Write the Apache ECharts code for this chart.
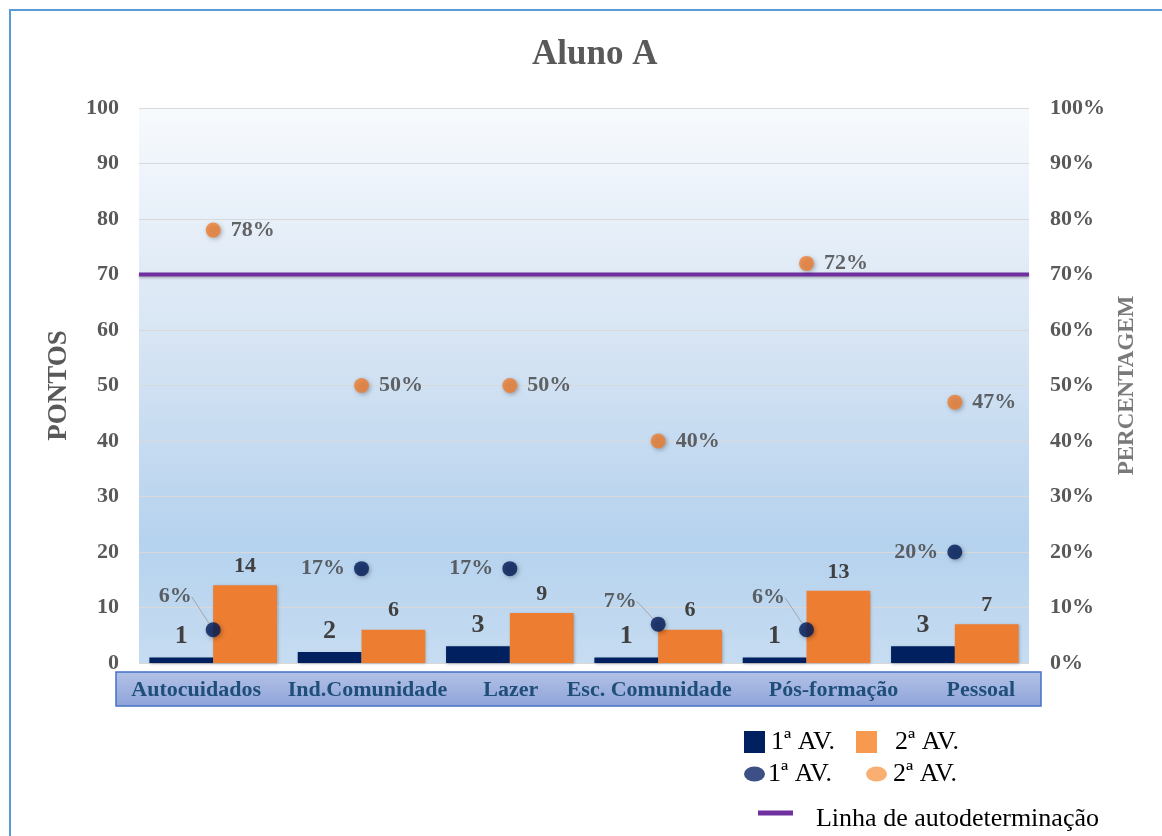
<!DOCTYPE html>
<html>
<head>
<meta charset="utf-8">
<script src="https://cdn.jsdelivr.net/npm/echarts@6/dist/echarts.min.js"></script>
<style>
  html, body { margin: 0; padding: 0; background: #ffffff; }
  #chart { width: 1162px; height: 836px; }
</style>
</head>
<body>
<div id="chart"></div>
<script>
// Domains of the assessment
const categorias = ['Autocuidados', 'Ind.Comunidade', 'Lazer', 'Esc. Comunidade', 'Pós-formação', 'Pessoal'];
// Points per domain (bars, left axis)
const pontos1 = [1, 2, 3, 1, 1, 3];
const pontos2 = [14, 6, 9, 6, 13, 7];
// Percentages per domain (dots, right axis)
const percent1 = [6, 17, 17, 7, 6, 20];
const percent2 = [78, 50, 50, 40, 72, 47];
// Self-determination threshold across all domains
const autodeterminacao = [70, 70, 70, 70, 70, 70];
// Axis ranges
const eixoPontos = { min: 0, max: 100, step: 10 };
const eixoPercent = { min: 0, max: 100, step: 10 };

const serif = "'Liberation Serif', 'Times New Roman', serif";
const nomes = { barra1: '1ª AV.', barra2: '2ª AV.', ponto1: '1ª AV.', ponto2: '2ª AV.', linha: 'Linha de autodeterminação' };
const legendFmt = n => nomes[n];

// horizontal nudges of the category names inside the label band
const deslocNome = [-17, 6, 1, -9, 27, 26];
const rotulosX = categorias.map((c, i) => ({
  value: c,
  textStyle: { padding: deslocNome[i] >= 0 ? [0, 0, 0, 2 * deslocNome[i]] : [0, -2 * deslocNome[i], 0, 0] }
}));

// dots whose labels sit above-left with a leader line (vertical lift per dot)
const guia = { 0: -33, 3: -23, 4: -32 };

const sombra = { shadowBlur: 4, shadowColor: 'rgba(0,0,0,0.35)', shadowOffsetX: 1.5, shadowOffsetY: 1.5 };
const sombraBarra = { shadowBlur: 3, shadowColor: 'rgba(0,0,0,0.25)', shadowOffsetX: 1, shadowOffsetY: 1 };
const elipse = 'path://M0,7.5A10.5,7.5 0 1,1 21,7.5A10.5,7.5 0 1,1 0,7.5z';
// legend stroke for the threshold line, sitting slightly above the text middle
const traco = 'path://M0,0L35,0L35,5L0,5Z M0,17L0.01,17L0.01,17.01Z';

const chart = echarts.init(document.getElementById('chart'), null, { renderer: 'canvas' });

const option = {
  backgroundColor: '#ffffff',
  animation: false,
  title: {
    text: 'Aluno A',
    left: 527, top: 32,
    textStyle: { fontFamily: serif, fontSize: 35, fontWeight: 'bold', color: '#595959' }
  },
  graphic: [
    {
      type: 'rect', z: 100, silent: true,
      shape: { x: 10, y: 10, width: 1170, height: 850 },
      style: { fill: 'transparent', stroke: '#5b9bd5', lineWidth: 2 }
    },
    {
      type: 'rect', z: -1, silent: true,
      shape: { x: 116, y: 672, width: 925, height: 34 },
      style: {
        fill: new echarts.graphic.LinearGradient(0, 0, 0, 1, [
          { offset: 0, color: '#b3c2e6' },
          { offset: 1, color: '#8ea3d9' }
        ]),
        stroke: '#4472c4', lineWidth: 1.5
      }
    }
  ],
  grid: {
    left: 139, right: 133, top: 108, bottom: 173,
    show: true, borderWidth: 0,
    backgroundColor: new echarts.graphic.LinearGradient(0, 0, 0, 1, [
      { offset: 0, color: '#f7fafd' },
      { offset: 0.45, color: '#d4e3f3' },
      { offset: 0.78, color: '#b5d2ee' },
      { offset: 1, color: '#c6dcf1' }
    ])
  },
  legend: [
    {
      left: 744, top: 729, padding: 0, icon: 'rect', itemWidth: 21, itemHeight: 22, itemGap: 21,
      formatter: legendFmt, selectedMode: false,
      textStyle: { fontFamily: serif, fontSize: 26, color: '#000', padding: [0, 0, 0, 1] },
      data: [
        { name: 'barra1' },
        { name: 'barra2', itemStyle: { color: '#f79a4f' }, textStyle: { padding: [0, 0, 0, 13] } }
      ]
    },
    {
      left: 744, top: 761, padding: 0, icon: elipse, itemWidth: 21, itemHeight: 15, itemGap: 34,
      formatter: legendFmt, selectedMode: false,
      textStyle: { fontFamily: serif, fontSize: 26, color: '#000', padding: [0, 0, 0, -2] },
      data: [
        { name: 'ponto1', itemStyle: { color: '#0b2466' } },
        { name: 'ponto2', itemStyle: { color: '#f79a4f' }, textStyle: { padding: [0, 0, 0, 1] } }
      ]
    },
    {
      left: 758, top: 806, padding: 0, icon: traco, itemWidth: 35, itemHeight: 17,
      formatter: legendFmt, selectedMode: false,
      textStyle: { fontFamily: serif, fontSize: 26, color: '#000', padding: [0, 0, 0, 18] },
      data: [{ name: 'linha' }]
    }
  ],
  xAxis: [
    {
      type: 'category', data: rotulosX, z: 10,
      axisLine: { show: false }, axisTick: { show: false },
      axisLabel: { interval: 0, margin: 16, fontFamily: serif, fontSize: 22, fontWeight: 'bold', color: '#1f4e79' }
    },
    {
      type: 'category', data: categorias, boundaryGap: false, show: false
    }
  ],
  yAxis: [
    {
      type: 'value', min: eixoPontos.min, max: eixoPontos.max, interval: eixoPontos.step,
      axisLine: { show: false }, axisTick: { show: false },
      axisLabel: { margin: 20, fontFamily: serif, fontSize: 22, fontWeight: 'bold', color: '#595959' },
      splitLine: { lineStyle: { color: '#d9d9d9', width: 1 } },
      name: 'PONTOS', nameLocation: 'middle', nameRotate: 90, nameGap: 66,
      nameTextStyle: { fontFamily: serif, fontSize: 27, fontWeight: 'bold', color: '#595959' }
    },
    {
      type: 'value', position: 'right', min: eixoPercent.min, max: eixoPercent.max, interval: eixoPercent.step,
      axisLine: { show: false }, axisTick: { show: false },
      axisLabel: { margin: 21, formatter: '{value}%', fontFamily: serif, fontSize: 22, fontWeight: 'bold', color: '#595959' },
      splitLine: { show: false },
      name: 'PERCENTAGEM', nameLocation: 'middle', nameRotate: 90, nameGap: 87,
      nameTextStyle: { fontFamily: serif, fontSize: 23, fontWeight: 'bold', color: '#7a7a7a' }
    }
  ],
  series: [
    {
      name: 'barra1', type: 'bar', data: pontos1,
      barGap: '0%', barCategoryGap: '14%',
      itemStyle: Object.assign({ color: '#002060' }, sombraBarra),
      label: { show: true, position: 'top', distance: 8, fontFamily: serif, fontSize: 26, fontWeight: 'bold', color: '#404040' }
    },
    {
      name: 'barra2', type: 'bar', data: pontos2,
      barGap: '0%', barCategoryGap: '14%',
      itemStyle: Object.assign({ color: '#ed7d31' }, sombraBarra),
      label: { show: true, position: 'top', distance: 8, fontFamily: serif, fontSize: 22, fontWeight: 'bold', color: '#404040' }
    },
    {
      name: 'linha', type: 'line', xAxisIndex: 1, data: autodeterminacao,
      symbol: 'none', z: 3,
      itemStyle: { color: '#7030a0' },
      lineStyle: Object.assign({ color: '#7030a0', width: 4 }, { shadowBlur: 3, shadowColor: 'rgba(0,0,0,0.25)', shadowOffsetY: 1.5 })
    },
    {
      name: 'ponto1', type: 'scatter', yAxisIndex: 1, z: 4,
      data: percent1.map((v, i) => ({ value: v, labelLine: { show: i in guia } })),
      symbolSize: 15,
      itemStyle: Object.assign({ color: '#001a57' }, sombra),
      label: { show: true, position: 'left', distance: 9, formatter: '{c}%', fontFamily: serif, fontSize: 22, fontWeight: 'bold', color: '#404040' },
      labelLine: { lineStyle: { color: '#a6a6a6', width: 1 } },
      labelLayout: p => (p.dataIndex in guia) ? { dx: -5, dy: guia[p.dataIndex] } : {}
    },
    {
      name: 'ponto2', type: 'scatter', yAxisIndex: 1, z: 4,
      data: percent2, symbolSize: 15,
      itemStyle: Object.assign({ color: '#ed7d31' }, sombra),
      label: { show: true, position: 'right', distance: 10, formatter: '{c}%', fontFamily: serif, fontSize: 22, fontWeight: 'bold', color: '#404040' }
    }
  ]
};

chart.setOption(option);
</script>
</body>
</html>
